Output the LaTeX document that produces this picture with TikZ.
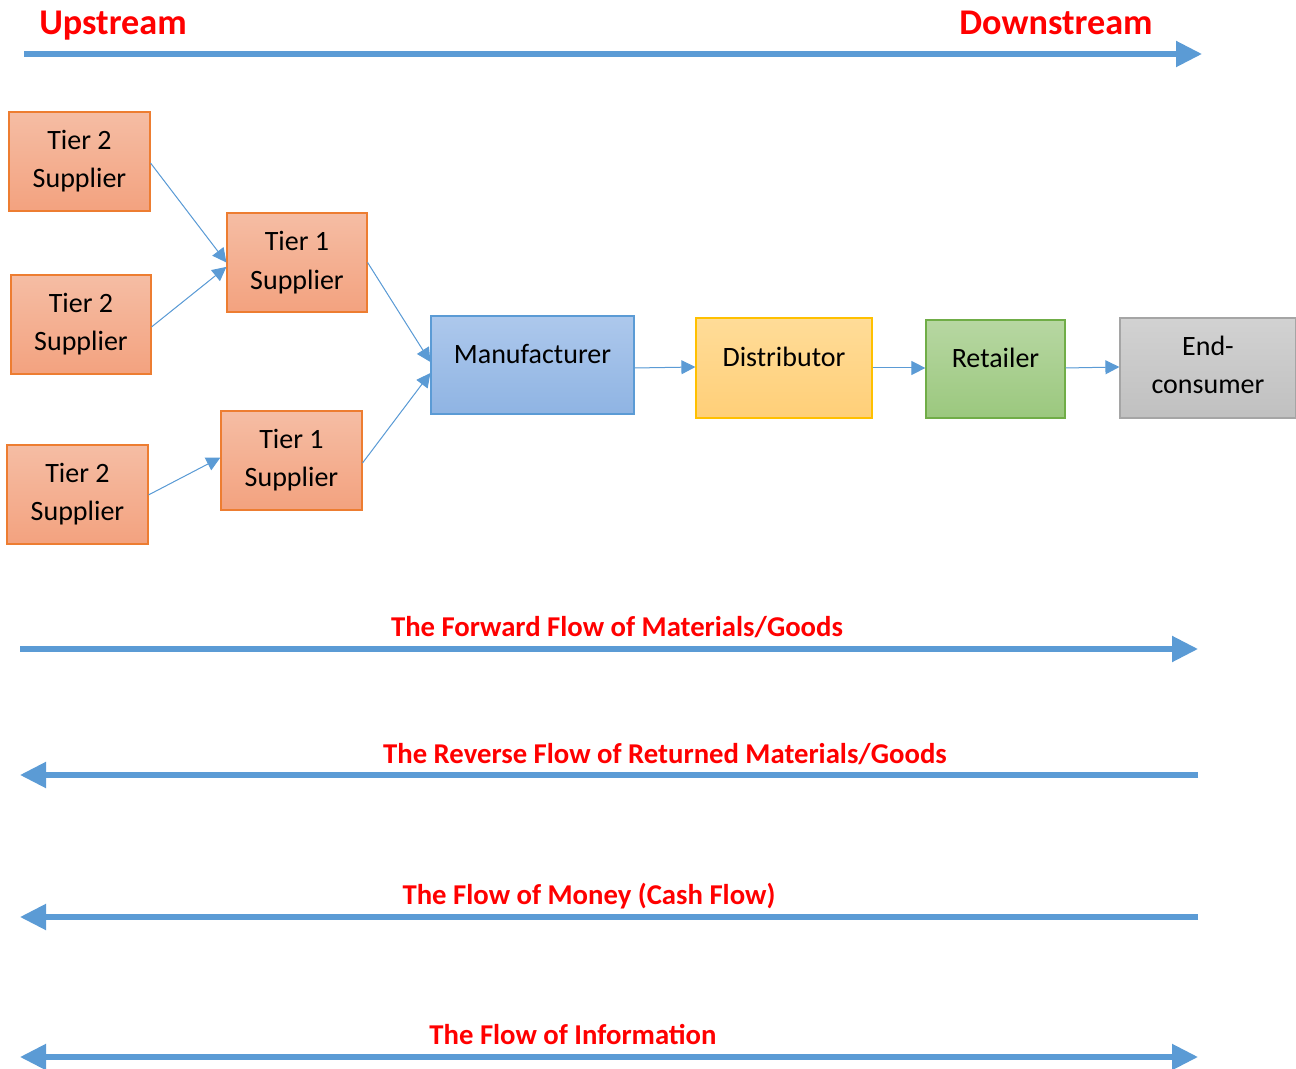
\documentclass[tikz,border=0pt]{standalone}
\usepackage{fontspec}
\setmainfont{Carlito}
\usetikzlibrary{arrows.meta}
\definecolor{lineblue}{HTML}{5B9BD5}
\definecolor{orbord}{HTML}{ED7D31}
\definecolor{ortop}{HTML}{F5BDA4}
\definecolor{orbot}{HTML}{F3A27F}
\definecolor{bltop}{HTML}{ADC8EC}
\definecolor{blbot}{HTML}{8FB4E3}
\definecolor{yebord}{HTML}{FFC000}
\definecolor{yetop}{HTML}{FFDC98}
\definecolor{yebot}{HTML}{FFCF78}
\definecolor{grbord}{HTML}{70AD47}
\definecolor{grtop}{HTML}{B7D7A2}
\definecolor{grbot}{HTML}{9BC87E}
\definecolor{gybord}{HTML}{A5A5A5}
\definecolor{gytop}{HTML}{D2D2D2}
\definecolor{gybot}{HTML}{C0C0C0}
\definecolor{hred}{HTML}{FF0000}
\tikzset{
  bighead/.tip={Triangle[length=13pt,width=12.5pt]},
  smallhead/.tip={Triangle[length=7pt,width=7pt]},
  boxbase/.style={rectangle, inner sep=0pt, align=center, line width=0.6pt,
    font=\fontsize{14}{19}\selectfont, text=black},
  tierbox/.style={boxbase, draw=orbord, top color=ortop, bottom color=orbot,
    minimum width=70.5pt, minimum height=49.5pt},
  manbox/.style={boxbase, draw=lineblue, top color=bltop, bottom color=blbot},
  disbox/.style={boxbase, draw=yebord, top color=yetop, bottom color=yebot},
  retbox/.style={boxbase, draw=grbord, top color=grtop, bottom color=grbot},
  endbox/.style={boxbase, draw=gybord, top color=gytop, bottom color=gybot},
  thinarrow/.style={draw=lineblue, line width=0.5pt, -{smallhead}, fill=lineblue},
  bigline/.style={draw=lineblue, line width=2.6pt},
  headlabel/.style={text=hred, font=\fontsize{18.1}{21}\selectfont\bfseries, anchor=base, inner sep=0pt},
  flowlabel/.style={text=hred, font=\fontsize{14.35}{17}\selectfont\bfseries, anchor=base, inner sep=0pt},
}
\begin{document}
\begin{tikzpicture}[x=0.5pt,y=-0.5pt]
\useasboundingbox (0,0) rectangle (1296,1069);
\begin{scope}
\clip (0,0) rectangle (1296,1069);
% Boxes
\node[tierbox] (t2a) at (79.5,161.5) {Tier 2\\Supplier};
\node[tierbox, minimum width=70pt] (t2b) at (81,324.5) {Tier 2\\Supplier};
\node[tierbox] (t2c) at (77.5,494.5) {Tier 2\\Supplier};
\node[tierbox, minimum width=70pt] (t1a) at (297,262.5) {\raisebox{0.5pt}{Tier 1}\\Supplier};
\node[tierbox] (t1b) at (291.5,460.5) {Tier 1\\Supplier};
\node[manbox, minimum width=101.5pt, minimum height=49pt] (man) at (532.5,365) {\raisebox{11.5pt}{Manufacturer}};
\node[disbox, minimum width=88pt, minimum height=50pt] (dis) at (784,368) {\raisebox{11.5pt}{Distributor}};
\node[retbox, minimum width=69.5pt, minimum height=49pt] (ret) at (995.5,369) {\raisebox{11.5pt}{Retailer}};
\node[endbox, minimum width=88pt, minimum height=50pt] (endc) at (1208,368) {\raisebox{3.5pt}{End-}\\\raisebox{3.5pt}{consumer}};
\end{scope}
% Thin connectors
\draw[thinarrow] ([yshift=-0.8pt]t2a.east) -- ([yshift=0pt]t1a.west);
\draw[thinarrow] ([yshift=-1.2pt]t2b.east) -- ([yshift=-2.2pt]t1a.west);
\draw[thinarrow] ([yshift=-0.2pt]t2c.east) -- ([yshift=1.5pt]t1b.west);
\draw[thinarrow] (t1a.east) -- ([yshift=1.5pt]man.west);
\draw[thinarrow] ([yshift=-1.2pt]t1b.east) -- ([yshift=-4pt]man.west);
\draw[thinarrow] ([yshift=-1.5pt]man.east) -- ([yshift=0.5pt]dis.west);
\draw[thinarrow] (dis.east) -- ([yshift=0.5pt]ret.west);
\draw[thinarrow] ([yshift=0.5pt]ret.east) -- ([yshift=0.5pt]endc.west);
% Big arrows
\coordinate (ua) at (24,54);   \coordinate (ub) at (1202,54);
\coordinate (fa) at (20,649);  \coordinate (fb) at (1198,649);
\coordinate (ra) at (20,775);  \coordinate (rb) at (1198,775);
\coordinate (ma) at (20,917);  \coordinate (mb) at (1198,917);
\coordinate (ia) at (20,1057); \coordinate (ib) at (1198,1057);
\draw[bigline, -{bighead}] (ua) -- (ub);
\draw[bigline, -{bighead}] (fa) -- (fb);
\draw[bigline, -{bighead}] (rb) -- (ra);
\draw[bigline, -{bighead}] (mb) -- (ma);
\draw[bigline, {bighead}-{bighead}] (ia) -- (ib);
% Labels
\node[headlabel] (up) at (113,35) {Upstream};
\node[headlabel] (down) at (1056,35) {Downstream};
\node[flowlabel] (fwd) at (617,636) {The Forward Flow of Materials/Goods};
\node[flowlabel] (rev) at (665,763) {The Reverse Flow of Returned Materials/Goods};
\node[flowlabel] (mon) at (589,904) {The Flow of Money (Cash Flow)};
\node[flowlabel] (inf) at (573,1044) {The Flow of Information};
\end{tikzpicture}
\end{document}
